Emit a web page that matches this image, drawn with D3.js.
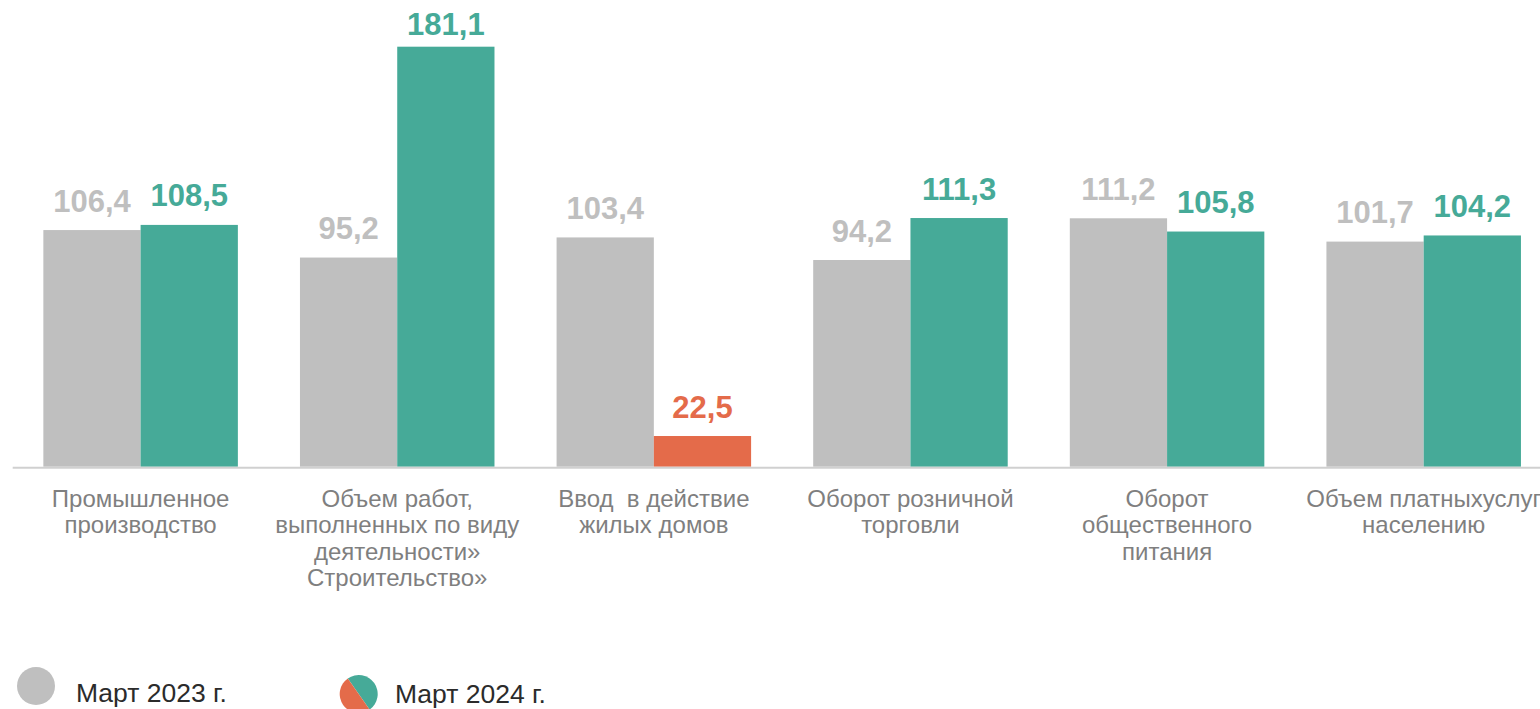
<!DOCTYPE html>
<html>
<head>
<meta charset="utf-8">
<script src="https://cdn.jsdelivr.net/npm/d3@7"></script>
<style>
  html, body { margin: 0; padding: 0; background: #fff; overflow: hidden; }
  svg { display: block; font-family: "Liberation Sans", Arial, sans-serif; }
</style>
</head>
<body>
<svg id="chart" width="1540" height="709"></svg>
<script>
// ---- data ----
const categories = [
  "Промышленное производство",
  "Объем работ, выполненных по виду деятельности» Строительство»",
  "Ввод  в действие жилых домов",
  "Оборот розничной торговли",
  "Оборот общественного питания",
  "Объем платныхуслуг населению"
];
const categoryLines = [
  ["Промышленное", "производство"],
  ["Объем работ,", "выполненных по виду", "деятельности»", "Строительство»"],
  ["Ввод  в действие", "жилых домов"],
  ["Оборот розничной", "торговли"],
  ["Оборот", "общественного", "питания"],
  ["Объем платныхуслуг", "населению"]
];
const seriesNames = ["Март 2023 г.", "Март 2024 г."];
const values2023 = [106.4, 95.2, 103.4, 94.2, 111.2, 101.7];
const values2024 = [108.5, 181.1, 22.5, 111.3, 105.8, 104.2];

// ---- styles ----
const GRAY = "#BFBFBF", TEAL = "#46AA98", ORANGE = "#E46B4A";
const fmt = v => d3.format(".1f")(v).replace(".", ",");

const svg = d3.select("#chart");

const x = d3.scaleBand().domain(d3.range(categories.length))
  .range([12.3, 1552]).paddingInner(0.242).paddingOuter(0.121);
const xs = d3.scaleBand().domain([0, 1]).range([0, x.bandwidth()]);
const y = d3.scaleLinear().domain([10, 200]).range([466.7, 0.3]);

const rows = categories.map((c, i) => ({ i, vals: [values2023[i], values2024[i]] }));

const g = svg.append("g");
const groups = g.selectAll("g.grp").data(rows).join("g")
  .attr("class", "grp")
  .attr("transform", d => `translate(${x(d.i)},0)`);

const colorFor = (s, v) => s === 0 ? GRAY : (v < 100 ? ORANGE : TEAL);

groups.selectAll("rect").data(d => d.vals.map((v, s) => ({ v, s }))).join("rect")
  .attr("x", d => xs(d.s))
  .attr("width", xs.bandwidth())
  .attr("y", d => y(d.v))
  .attr("height", d => y(10) - y(d.v))
  .attr("fill", d => colorFor(d.s, d.v));

groups.selectAll("text.val").data(d => d.vals.map((v, s) => ({ v, s }))).join("text")
  .attr("class", "val")
  .attr("x", d => xs(d.s) + xs.bandwidth() / 2)
  .attr("y", d => Math.max(y(d.v) - 18.5, 35))
  .attr("text-anchor", "middle")
  .attr("font-size", 31)
  .attr("font-weight", "bold")
  .attr("fill", d => colorFor(d.s, d.v))
  .text(d => fmt(d.v));

// baseline axis
svg.append("line")
  .attr("x1", 12.7).attr("x2", 1540)
  .attr("y1", y(10) + 1).attr("y2", y(10) + 1)
  .attr("stroke", "#D0D0D0").attr("stroke-width", 2);

// category labels
const lab = svg.append("g").selectAll("text").data(rows).join("text")
  .attr("x", d => x(d.i) + x.bandwidth() / 2)
  .attr("y", 506.5)
  .attr("text-anchor", "middle")
  .attr("font-size", 24)
  .attr("fill", "#7F7F7F")
  .style("white-space", "pre");
lab.selectAll("tspan").data(d => categoryLines[d.i].map(t => ({ t, cx: x(d.i) + x.bandwidth() / 2 }))).join("tspan")
  .attr("x", d => d.cx)
  .attr("dy", (d, k) => k === 0 ? 0 : 26.6)
  .text(d => d.t);

// legend
const leg = svg.append("g");
leg.append("circle").attr("cx", 36).attr("cy", 686).attr("r", 19).attr("fill", GRAY);
leg.append("text").attr("x", 76).attr("y", 701.7).attr("font-size", 26.5).attr("fill", "#2B2B2B").text(seriesNames[0]);

const cx2 = 358.7, cy2 = 694, r2 = 19;
const a1 = -125 * Math.PI / 180, a2 = 55 * Math.PI / 180;
const p = a => [cx2 + r2 * Math.cos(a), cy2 + r2 * Math.sin(a)];
const [sx, sy] = p(a1), [ex, ey] = p(a2);
leg.append("path").attr("d", `M${sx},${sy} A${r2},${r2} 0 0 1 ${ex},${ey} Z`).attr("fill", TEAL);
leg.append("path").attr("d", `M${ex},${ey} A${r2},${r2} 0 0 1 ${sx},${sy} Z`).attr("fill", ORANGE);
leg.append("text").attr("x", 395).attr("y", 703).attr("font-size", 26.5).attr("fill", "#2B2B2B").text(seriesNames[1]);
</script>
</body>
</html>
